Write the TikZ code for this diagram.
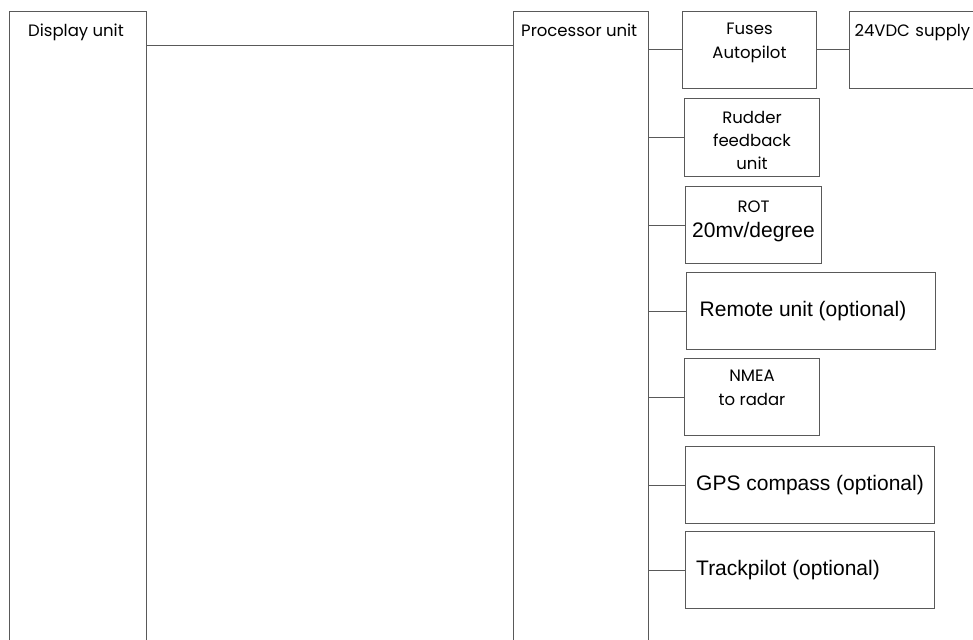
\documentclass[tikz,border=0pt]{standalone}
\usepackage{fontspec}
\newfontfamily\gfont{Poppins}
\newfontfamily\afont{Liberation Sans}
\begin{document}
\begin{tikzpicture}[x=1pt,y=-1pt,
    unit/.style={draw=black!65, line width=1pt, inner sep=0pt, anchor=north west, align=center},
    gtext/.style={font=\gfont\fontsize{16.5}{24}\selectfont},
    atext/.style={font=\afont\fontsize{21}{25}\selectfont},
    unitcap/.style={gtext, anchor=north west, inner sep=0pt}]
\useasboundingbox (0,0) rectangle (973,639);
\clip (0,0) rectangle (973,639);
\node[unit, minimum width=137pt, minimum height=700pt,
    label={[unitcap, xshift=19pt, yshift=-13pt]north west:Display unit}] (disp) at (9,11) {};
\node[unit, minimum width=135pt, minimum height=700pt,
    label={[unitcap, xshift=8pt, yshift=-13pt]north west:Processor unit}] (proc) at (513,11) {};
\node[unit, gtext, minimum width=134pt, minimum height=77pt] (fuse) at (682,11) {Fuses\\Autopilot\\[-6pt]~};
\node[unit, gtext, minimum width=140pt, minimum height=77pt, text width=136pt, align=left] (sup) at (849,11) {\hspace*{3pt}24VDC supply\\~\\[-8pt]~};
\node[unit, gtext, minimum width=135pt, minimum height=78pt] (rud) at (684,98) {Rudder\\[-1pt]feedback\\[-1pt]unit\\[-30pt]~};
\node[unit, minimum width=136pt, minimum height=77pt] (rot) at (685,186) {{\gfont\fontsize{16.5}{20}\selectfont ROT}\\[9pt]{\afont\fontsize{21}{25}\selectfont 20mv/degree}\\[0pt]~};
\node[unit, atext, minimum width=249pt, minimum height=77pt] (rem) at (686,272) {Remote unit (optional)\hspace*{16pt}};
\node[unit, gtext, minimum width=135pt, minimum height=77pt] (nmea) at (684,358) {NMEA\\to radar\\[-6pt]~};
\node[unit, atext, minimum width=249pt, minimum height=77pt] (gps) at (685,446) {GPS compass (optional)};
\node[unit, atext, minimum width=249pt, minimum height=77pt] (trk) at (685,531) {Trackpilot (optional)\hspace*{44pt}};

\draw[black!65, line width=1pt] ([yshift=-35pt]disp.north east) -- ([yshift=-35pt]disp.north east -| proc.west);
\foreach \b in {fuse,rud,rot,rem,nmea,gps,trk}
{
    \draw[black!65, line width=1pt] (proc.east |- \b.west) -- (\b.west);
}
\draw[black!65, line width=1pt] (fuse.east) -- (sup.west);
\end{tikzpicture}
\end{document}
